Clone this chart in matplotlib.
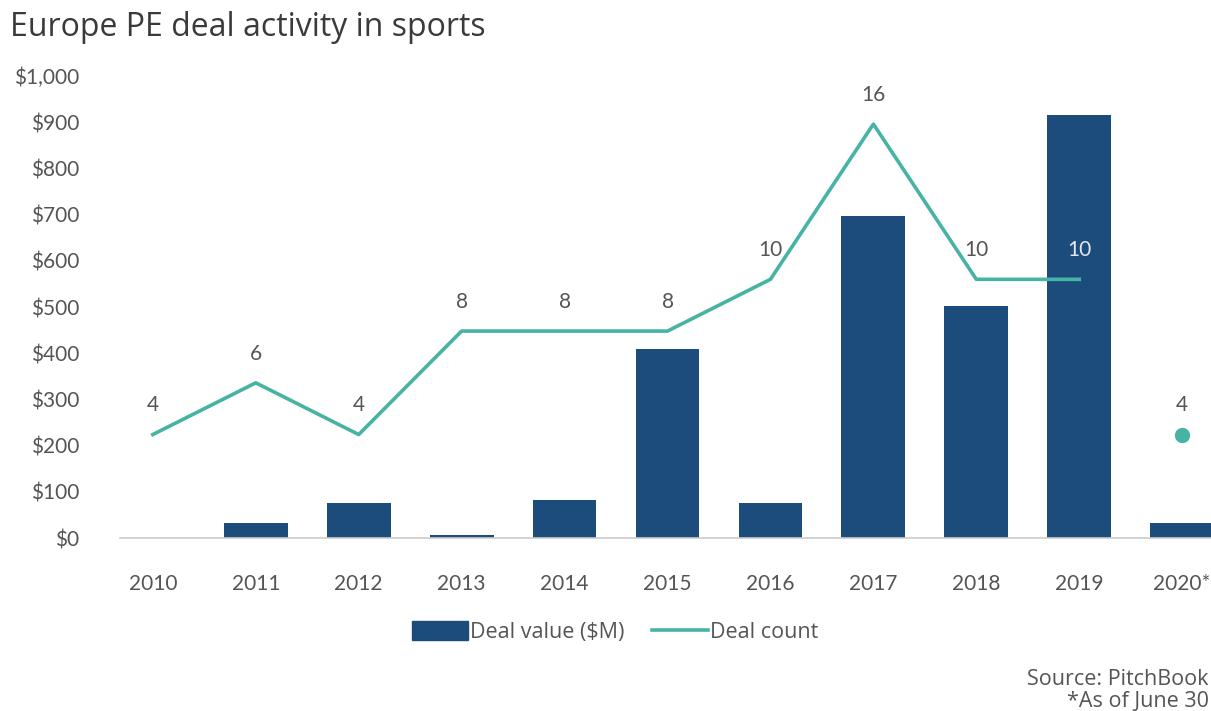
import matplotlib.pyplot as plt
import numpy as np
from matplotlib.patches import Patch
from matplotlib.lines import Line2D

years = ['2010', '2011', '2012', '2013', '2014', '2015', '2016', '2017', '2018', '2019', '2020*']
deal_value = [0, 32, 76, 6, 82, 409, 76, 697, 502, 915, 32]
deal_count = [4, 6, 4, 8, 8, 8, 10, 16, 10, 10]
count_2020 = 4
yticks = [0, 100, 200, 300, 400, 500, 600, 700, 800, 900, 1000]

bar_color = '#1b4c7c'
line_color = '#47b3a5'
text_color = '#555555'

plt.rcParams['font.family'] = ['Lato', 'DejaVu Sans']
wide = ['Open Sans', 'DejaVu Sans']

fig = plt.figure(figsize=(12.11, 7.11), dpi=100)
ax = fig.add_axes([0.099, 0.2433, 0.901, 0.6497])
x = np.arange(len(years))

ax.bar(x, deal_value, width=0.62, color=bar_color, zorder=2)
ax.set_ylim(0, 1000)
ax.set_xlim(-0.32, len(years) - 1 + 0.28)
ax.set_yticks(yticks)
ax.set_yticklabels(['$' + format(v, ',') for v in yticks])
ax.set_xticks(x)
ax.set_xticklabels(years)
ax.tick_params(axis='both', length=0, labelsize=15, colors=text_color)
ax.tick_params(axis='y', pad=29)
ax.tick_params(axis='x', pad=26)
for s in ['top', 'right', 'left']:
    ax.spines[s].set_visible(False)
ax.spines['bottom'].set_color('#cccccc')
ax.spines['bottom'].set_linewidth(1.2)

ax2 = ax.twinx()
ax2.set_ylim(0, 1000 / 56)
ax2.axis('off')
xl = x[:len(deal_count)]
ax2.plot(xl, deal_count, color=line_color, lw=2.6, zorder=3)
ax2.plot([x[-1]], [count_2020], 'o', color=line_color, ms=10, zorder=3)
for i, c in enumerate(deal_count):
    col = '#e4e8ee' if i == 9 else text_color
    ax2.annotate(str(c), (xl[i], c), xytext=(0, 21), textcoords='offset points',
                 ha='center', va='center', fontsize=15, color=col)
ax2.annotate(str(count_2020), (x[-1], count_2020), xytext=(0, 21), textcoords='offset points',
             ha='center', va='center', fontsize=15, color=text_color)

fig.text(0.008, 0.962, 'Europe PE deal activity in sports', fontsize=23, color='#3a3a3a',
         va='center', ha='left', family=wide)

handles = [Patch(color=bar_color, label='Deal value ($M)'),
           Line2D([], [], color=line_color, lw=2.6, label='Deal count')]
fig.legend(handles=handles, loc='center', bbox_to_anchor=(0.508, 0.111), ncol=2, frameon=False,
           prop={'family': wide, 'size': 15.5}, labelcolor=text_color, handlelength=2.6,
           handleheight=1.0, handletextpad=0.1, columnspacing=1.3)

fig.text(0.998, 0.044, 'Source: PitchBook', fontsize=15.5, color=text_color, ha='right',
         va='center', family=wide)
fig.text(0.998, 0.014, '*As of June 30', fontsize=15.5, color=text_color, ha='right',
         va='center', family=wide)

fig.savefig('out.png', dpi=100)
